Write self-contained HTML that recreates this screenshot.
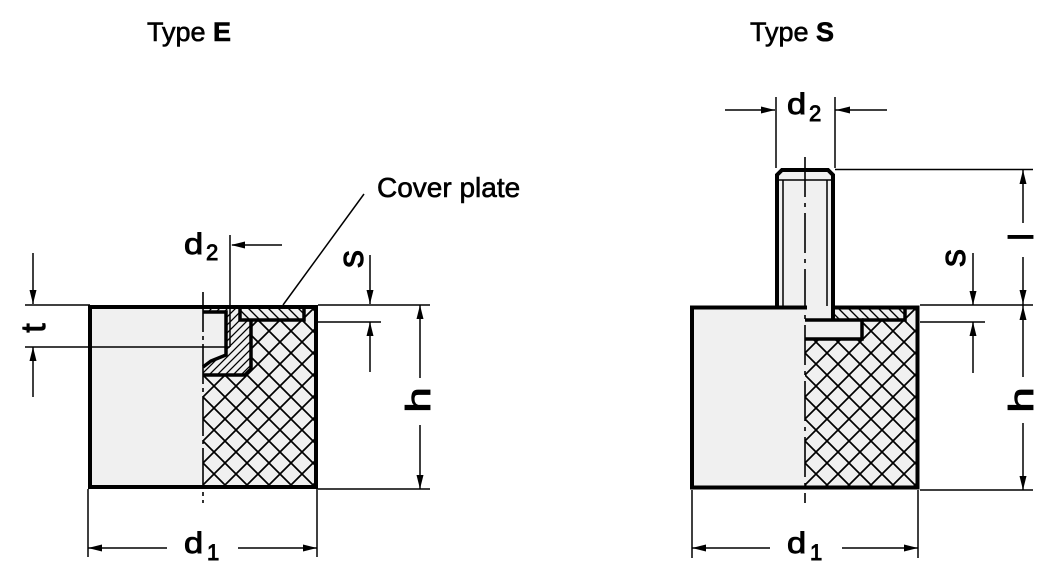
<!DOCTYPE html>
<html><head><meta charset="utf-8"><style>
html,body{margin:0;padding:0;background:#fff;}
svg{display:block;}
text{font-family:"Liberation Sans",Arial,sans-serif;fill:#000;stroke:#000;stroke-width:0.6;}
text.lbl{stroke-width:0.9;}
</style></head><body>
<svg width="1048" height="579" viewBox="0 0 1048 579" xmlns="http://www.w3.org/2000/svg">
<defs>
<pattern id="cross" patternUnits="userSpaceOnUse" width="22" height="22" x="203" y="309">
<rect width="22" height="22" fill="#f0f0f0"/>
<path d="M-1,-1 L23,23 M23,-1 L-1,23" stroke="#000" stroke-width="1.7"/>
</pattern>
<pattern id="cross2" patternUnits="userSpaceOnUse" width="22" height="22" x="805" y="309">
<rect width="22" height="22" fill="#f0f0f0"/>
<path d="M-1,-1 L23,23 M23,-1 L-1,23" stroke="#000" stroke-width="1.7"/>
</pattern>
<pattern id="h1" patternUnits="userSpaceOnUse" width="8" height="8">
<rect width="8" height="8" fill="#f0f0f0"/>
<path d="M-1,9 L9,-1 M-2,2 L2,-2 M6,10 L10,6" stroke="#000" stroke-width="1.3"/>
</pattern>
<pattern id="h2" patternUnits="userSpaceOnUse" width="10" height="10">
<rect width="10" height="10" fill="#f0f0f0"/>
<path d="M-1,-1 L11,11 M-2,8 L2,12 M8,-2 L12,2" stroke="#000" stroke-width="1.4"/>
</pattern>
</defs>

<!-- Titles -->
<text x="147" y="41" font-size="27">Type <tspan font-weight="bold">E</tspan></text>
<text x="750" y="41" font-size="27">Type <tspan font-weight="bold">S</tspan></text>
<text x="377" y="197" font-size="28">Cover plate</text>

<!-- ============ TYPE E ============ -->
<rect x="90" y="307" width="226" height="180" fill="#f0f0f0"/>
<rect x="203" y="307" width="113" height="180" fill="url(#cross)"/>
<polygon points="203,309 240,309 240,320 251,320 251,369 245,375 203,375" fill="url(#h1)"/>
<polygon points="203,312 226,312 226,355 210,362 203,367" fill="#f0f0f0"/>
<rect x="240" y="309" width="64" height="11" fill="url(#h2)"/>
<g fill="none" stroke="#000" stroke-width="3.5" stroke-linejoin="miter">
<path d="M240,309 V320 H304 V309"/>
<path d="M251,320 V369 L245,375 H203"/>
<path d="M203,312 H226 V355 L211,361 L203,367"/>
</g>
<rect x="90" y="307" width="226" height="180" fill="none" stroke="#000" stroke-width="4"/>
<line x1="203" y1="292" x2="203" y2="503" stroke="#000" stroke-width="1.6" stroke-dasharray="40 4 4 4"/>

<g stroke="#000" stroke-width="1.5" fill="none">
<line x1="25" y1="305" x2="90" y2="305"/>
<line x1="318" y1="305" x2="430" y2="305"/>
<line x1="25" y1="347" x2="230" y2="347"/>
<line x1="318" y1="322" x2="381" y2="322"/>
<line x1="318" y1="489" x2="430" y2="489"/>
<line x1="88" y1="489" x2="88" y2="557"/>
<line x1="317" y1="489" x2="317" y2="557"/>
<line x1="230" y1="235" x2="230" y2="347"/>
<line x1="283" y1="305" x2="364" y2="194"/>
<line x1="232" y1="245" x2="282" y2="245"/>
<line x1="33" y1="253" x2="33" y2="304"/>
<line x1="33" y1="347" x2="33" y2="397"/>
<line x1="370" y1="255" x2="370" y2="304"/>
<line x1="370" y1="322" x2="370" y2="372"/>
<line x1="420" y1="305" x2="420" y2="378"/>
<line x1="420" y1="425" x2="420" y2="489"/>
<line x1="88" y1="548" x2="167" y2="548"/>
<line x1="238" y1="548" x2="317" y2="548"/>
</g>
<g fill="#000">
<polygon points="231,245 245,241.5 245,248.5"/>
<polygon points="33,304 29.5,290 36.5,290"/>
<polygon points="33,347 29.5,361 36.5,361"/>
<polygon points="370,304 366.5,290 373.5,290"/>
<polygon points="370,322 366.5,336 373.5,336"/>
<polygon points="420,305 416.5,319 423.5,319"/>
<polygon points="420,489 416.5,475 423.5,475"/>
<polygon points="88,548 102,544.5 102,551.5"/>
<polygon points="317,548 303,544.5 303,551.5"/>
</g>
<!-- labels E -->
<text class="lbl" transform="translate(184,254) scale(1.15,1)" font-size="30">d</text>
<text class="lbl" x="206" y="260" font-size="22">2</text>
<text class="lbl" transform="translate(184,553) scale(1.15,1)" font-size="30">d</text>
<text class="lbl" x="207" y="560" font-size="22">1</text>
<text class="lbl" transform="translate(45,328) rotate(-90)" font-size="34" text-anchor="middle">t</text>
<text class="lbl" transform="translate(363,259) rotate(-90)" font-size="36" text-anchor="middle">s</text>
<text class="lbl" transform="translate(430,400) rotate(-90) scale(1.35,1)" font-size="34" text-anchor="middle">h</text>

<!-- ============ TYPE S ============ -->
<rect x="692" y="307.5" width="225.5" height="180" fill="#f0f0f0"/>
<rect x="805" y="307" width="112.5" height="180" fill="url(#cross2)"/>
<rect x="835" y="309" width="70" height="11" fill="url(#h2)"/>
<polygon points="777,307 777,175 782,170 828,170 833,175 833,320 805,320 805,309" fill="#f0f0f0"/>
<rect x="805" y="320" width="57" height="19" fill="#f0f0f0"/>
<g fill="none" stroke="#000" stroke-width="4">
<path d="M807,307.5 H692 V487.5 H917.5 V307.5 H833"/>
<path d="M777,307 V175 L782,170 H828 L833,175 V320"/>
</g>
<g fill="none" stroke="#000" stroke-width="3.5">
<path d="M805,320 H862 V339 H805"/>
<path d="M862,320 H905 V309"/>
</g>
<g stroke="#000" stroke-width="1.5" fill="none">
<line x1="783" y1="180" x2="783" y2="306"/>
<line x1="827" y1="180" x2="827" y2="306"/>
<line x1="779" y1="180" x2="831" y2="180"/>
</g>
<line x1="805" y1="157" x2="805" y2="503" stroke="#000" stroke-width="1.6" stroke-dasharray="40 6 4 6"/>

<g stroke="#000" stroke-width="1.5" fill="none">
<line x1="776" y1="97" x2="776" y2="168"/>
<line x1="835" y1="97" x2="835" y2="168"/>
<line x1="725" y1="110" x2="775" y2="110"/>
<line x1="835" y1="110" x2="887" y2="110"/>
<line x1="835" y1="169.5" x2="1033" y2="169.5"/>
<line x1="920" y1="305" x2="1033" y2="305"/>
<line x1="920" y1="490" x2="1033" y2="490"/>
<line x1="920" y1="322" x2="985" y2="322"/>
<line x1="1023" y1="170" x2="1023" y2="223"/>
<line x1="1023" y1="257" x2="1023" y2="305"/>
<line x1="1023" y1="305" x2="1023" y2="377"/>
<line x1="1023" y1="423" x2="1023" y2="490"/>
<line x1="973" y1="253" x2="973" y2="305"/>
<line x1="973" y1="322" x2="973" y2="373"/>
<line x1="692" y1="490" x2="692" y2="558"/>
<line x1="918" y1="490" x2="918" y2="558"/>
<line x1="692" y1="548" x2="770" y2="548"/>
<line x1="842" y1="548" x2="918" y2="548"/>
</g>
<g fill="#000">
<polygon points="775,110 761,106.5 761,113.5"/>
<polygon points="836,110 850,106.5 850,113.5"/>
<polygon points="1023,170 1019.5,184 1026.5,184"/>
<polygon points="1023,304 1019.5,290 1026.5,290"/>
<polygon points="1023,306 1019.5,320 1026.5,320"/>
<polygon points="1023,490 1019.5,476 1026.5,476"/>
<polygon points="973,305 969.5,291 976.5,291"/>
<polygon points="973,322 969.5,336 976.5,336"/>
<polygon points="692,548 706,544.5 706,551.5"/>
<polygon points="918,548 904,544.5 904,551.5"/>
</g>
<text class="lbl" transform="translate(787,114) scale(1.15,1)" font-size="30">d</text>
<text class="lbl" x="809" y="121" font-size="22">2</text>
<text class="lbl" transform="translate(787,553) scale(1.15,1)" font-size="30">d</text>
<text class="lbl" x="810" y="560" font-size="22">1</text>
<text class="lbl" transform="translate(965,258) rotate(-90)" font-size="36" text-anchor="middle">s</text>
<text class="lbl" transform="translate(1033,237) rotate(-90)" font-size="34" text-anchor="middle">l</text>
<text class="lbl" transform="translate(1033,400) rotate(-90) scale(1.35,1)" font-size="34" text-anchor="middle">h</text>
</svg>
</body></html>
